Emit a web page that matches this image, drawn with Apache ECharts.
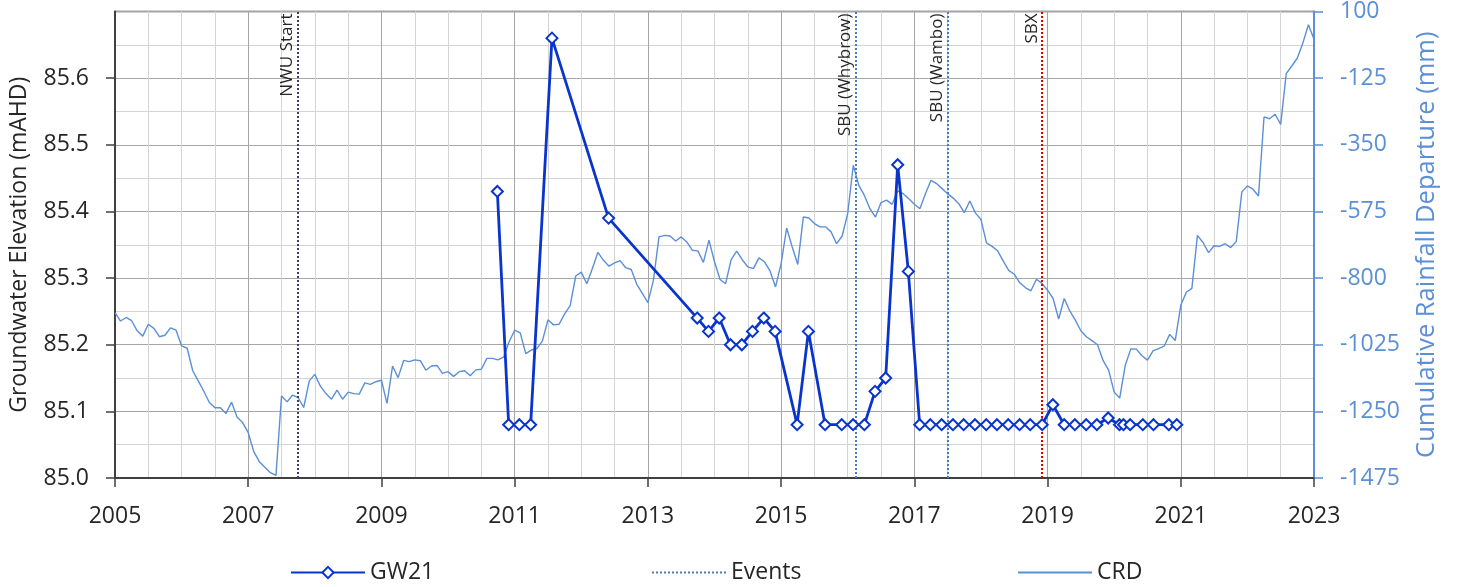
<!DOCTYPE html>
<html>
<head>
<meta charset="utf-8">
<script src="https://cdn.jsdelivr.net/npm/echarts@6/dist/echarts.min.js"></script>
<style>
html,body{margin:0;padding:0;background:#fff;}
#chart{width:1462px;height:587px;}
</style>
</head>
<body>
<div id="chart"></div>
<script>
// GW21 groundwater elevation (decimal year, mAHD)
const gwYears = [2010.74, 2010.91, 2011.07, 2011.24, 2011.56, 2012.41, 2013.74, 2013.91, 2014.07, 2014.24,
  2014.41, 2014.57, 2014.74, 2014.91, 2015.24, 2015.41, 2015.66, 2015.91, 2016.08, 2016.25,
  2016.41, 2016.57, 2016.75, 2016.91, 2017.08, 2017.24, 2017.41, 2017.58, 2017.74, 2017.91,
  2018.08, 2018.24, 2018.41, 2018.58, 2018.74, 2018.92, 2019.08, 2019.25, 2019.41, 2019.58,
  2019.74, 2019.91, 2020.08, 2020.14, 2020.24, 2020.43, 2020.59, 2020.82, 2020.94];
const gwValues = [85.43, 85.08, 85.08, 85.08, 85.66, 85.39, 85.24, 85.22, 85.24, 85.20,
  85.20, 85.22, 85.24, 85.22, 85.08, 85.22, 85.08, 85.08, 85.08, 85.08,
  85.13, 85.15, 85.47, 85.31, 85.08, 85.08, 85.08, 85.08, 85.08, 85.08,
  85.08, 85.08, 85.08, 85.08, 85.08, 85.08, 85.11, 85.08, 85.08, 85.08,
  85.08, 85.09, 85.08, 85.08, 85.08, 85.08, 85.08, 85.08, 85.08];

// Cumulative rainfall departure, monthly from Jan 2005 (mm)
const crdStartYear = 2005;
const crdValues = [
  -917, -945, -933, -944, -978, -996, -956, -970, -998, -993, -968, -976,
  -1029, -1037, -1113, -1147, -1182, -1220, -1238, -1238, -1257, -1219, -1270, -1288,
  -1322, -1386, -1420, -1439, -1457, -1466, -1198, -1218, -1195, -1204, -1237, -1147,
  -1125, -1165, -1190, -1209, -1178, -1209, -1185, -1190, -1192, -1154, -1159, -1150,
  -1145, -1223, -1097, -1136, -1078, -1082, -1076, -1079, -1111, -1097, -1095, -1122,
  -1116, -1132, -1116, -1113, -1130, -1110, -1108, -1071, -1071, -1076, -1067, -1015,
  -976, -985, -1055, -1043, -1038, -1012, -941, -958, -956, -921, -893, -793,
  -780, -819, -768, -713, -740, -760, -749, -741, -765, -771, -821, -852,
  -883, -807, -661, -656, -658, -675, -661, -678, -706, -708, -747, -672,
  -745, -805, -819, -738, -709, -738, -762, -768, -732, -745, -776, -830,
  -751, -631, -695, -754, -594, -597, -616, -627, -627, -644, -684, -658,
  -582, -419, -487, -521, -566, -594, -545, -537, -551, -506, -515, -532,
  -551, -566, -515, -470, -481, -498, -515, -530, -549, -579, -540, -580,
  -602, -681, -693, -708, -742, -774, -787, -816, -832, -843, -804, -818,
  -841, -869, -938, -869, -911, -942, -978, -998, -1011, -1025, -1078, -1111,
  -1185, -1205, -1094, -1039, -1040, -1062, -1077, -1046, -1038, -1030, -990, -1011,
  -892, -848, -835, -656, -680, -714, -691, -693, -684, -697, -676, -509,
  -489, -500, -523, -256, -262, -247, -281, -110, -84, -57, -6, 55,
  6];

// Events
const eventNames = ['NWU Start', 'SBU (Whybrow)', 'SBU (Wambo)', 'SBX'];
const eventYears = [2007.74, 2016.12, 2017.50, 2018.92];
const eventColors = ['#403d66', '#4a7ebb', '#4a7ebb', '#e00000'];

const FONT = 'Open Sans';
const gwData = gwYears.map((y, i) => [y, gwValues[i]]);
const crdData = crdValues.map((v, i) => [crdStartYear + i / 12, v]);

const legendText = {fontFamily: FONT, fontSize: 23, color: '#262626'};
const legendBase = {top: 561, padding: 0, itemWidth: 74, itemHeight: 14, itemGap: 6, textStyle: legendText};

const chart = echarts.init(document.getElementById('chart'), null, {renderer: 'canvas'});
chart.setOption({
  animation: false,
  textStyle: {fontFamily: FONT},
  grid: {left: 113, right: 148, top: 11, bottom: 109, show: true, borderColor: '#404040', borderWidth: 1.5, containLabel: false},
  legend: [
    Object.assign({left: 290, data: ['GW21']}, legendBase),
    Object.assign({left: 651, data: [{name: 'Events', itemStyle: {opacity: 0}}]}, legendBase),
    Object.assign({left: 1017, data: [{name: 'CRD', itemStyle: {opacity: 0}}]}, legendBase)
  ],
  xAxis: {
    type: 'value', min: 2005, max: 2023, interval: 2,
    axisLine: {show: true, onZero: false, lineStyle: {color: '#404040', width: 2}},
    axisTick: {show: true, length: 9, inside: false, lineStyle: {color: '#404040', width: 1.5}},
    minorTick: {show: false, splitNumber: 4},
    axisLabel: {margin: 27, fontSize: 23, color: '#262626', fontFamily: FONT, formatter: v => String(Math.round(v))},
    splitLine: {show: true, lineStyle: {color: '#a6a6a6', width: 1}},
    minorSplitLine: {show: true, lineStyle: {color: '#d4d4d4', width: 1}}
  },
  yAxis: [{
    type: 'value', min: 85.0, max: 85.7, interval: 0.1, position: 'left',
    name: 'Groundwater Elevation (mAHD)', nameLocation: 'middle', nameGap: 84,
    nameTextStyle: {fontSize: 23, color: '#262626', fontFamily: FONT},
    axisLine: {show: true, onZero: false, lineStyle: {color: '#404040', width: 2}},
    axisTick: {show: true, length: 9, lineStyle: {color: '#404040', width: 1.5}},
    minorTick: {show: false, splitNumber: 2},
    axisLabel: {margin: 26, fontSize: 23, color: '#262626', fontFamily: FONT, showMaxLabel: false,
      formatter: v => v.toFixed(1)},
    splitLine: {show: true, lineStyle: {color: '#a6a6a6', width: 1}},
    minorSplitLine: {show: true, lineStyle: {color: '#d4d4d4', width: 1}}
  }, {
    type: 'value', min: -1475, max: 100, alignTicks: true, position: 'right',
    name: 'Cumulative Rainfall Departure (mm)', nameLocation: 'middle', nameGap: 100, nameRotate: 90,
    nameTextStyle: {fontSize: 25.5, color: '#5b8fd6', fontFamily: FONT},
    axisLine: {show: true, onZero: false, lineStyle: {color: '#5b8fd6', width: 2}},
    axisTick: {show: true, length: 9, lineStyle: {color: '#5b8fd6', width: 1.5}},
    axisLabel: {margin: 26, fontSize: 23, color: '#5b8fd6', fontFamily: FONT, formatter: v => String(Math.round(v))},
    splitLine: {show: false}
  }],
  series: [{
    name: 'CRD', type: 'line', yAxisIndex: 1, data: crdData, symbol: 'none',
    lineStyle: {color: '#5b8fd6', width: 1.4}, itemStyle: {color: '#5b8fd6'}, z: 2
  }, {
    name: 'Events', type: 'line', yAxisIndex: 0, data: [], symbol: 'none',
    itemStyle: {color: '#4a7ebb'}, lineStyle: {color: '#4a7ebb', type: 'dotted', width: 2},
    markLine: {
      silent: true, symbol: ['none', 'none'], animation: false,
      data: eventYears.map((x, i) => ({
        xAxis: x, name: eventNames[i],
        lineStyle: {color: eventColors[i], type: 'dotted', width: 2},
        label: {show: true, formatter: eventNames[i], position: 'insideEndTop', distance: 2,
          color: '#262626', fontSize: 17, fontFamily: FONT}
      }))
    }
  }, {
    name: 'GW21', type: 'line', yAxisIndex: 0, data: gwData,
    symbol: 'diamond', symbolSize: 11, showAllSymbol: true,
    lineStyle: {color: '#0a35cc', width: 2.8},
    itemStyle: {color: '#ffffff', borderColor: '#0a35cc', borderWidth: 2}, z: 5
  }]
});
</script>
</body>
</html>
